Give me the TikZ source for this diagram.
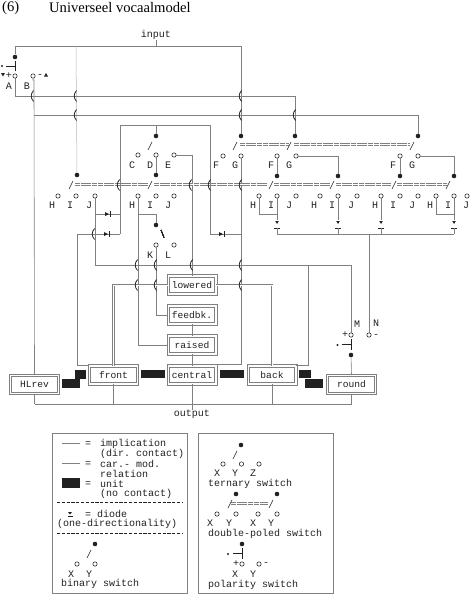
\documentclass[tikz,border=0pt]{standalone}
\usepackage{fontspec}
\setmainfont{Liberation Serif}
\setmonofont{Liberation Mono}
\usetikzlibrary{calc}
\definecolor{wirec}{gray}{0.5}
\definecolor{inkc}{gray}{0.13}
\tikzset{
  wire/.style={draw=wirec,line width=.6pt},
  hwire/.style={draw=wirec,line width=.95pt},
  faint/.style={draw=wirec!55,line width=.5pt},
  dwire/.style={draw=wirec,line width=.6pt,double=white,double distance=1pt},
  dbar/.style={draw=wirec,line width=.9pt,double=white,double distance=.6pt,dash pattern=on 5pt off .7pt},
  slashl/.style={draw=inkc,line width=.6pt},
  legendbox/.style={draw=wirec,line width=.9pt},
  sep/.style={draw=inkc,line width=.6pt,dash pattern=on 3.2pt off 1.6pt},
  contact/.style={circle,draw=inkc,line width=.55pt,fill=white,inner sep=0pt,minimum size=4.4pt},
  sdot/.style={circle,fill=inkc,inner sep=0pt,minimum size=4.6pt},
  mono/.style={font=\ttfamily\fontsize{10}{10}\selectfont,text=inkc,inner sep=0pt},
  lbl/.style={mono},
  ltext/.style={mono,anchor=west},
  unitbox/.style={draw=wirec,line width=1pt,double=white,double distance=1.4pt,fill=white,minimum width=47.6pt,minimum height=17.8pt,inner sep=0pt,font=\ttfamily\fontsize{9.6}{10}\selectfont,text=inkc},
  blk/.style={fill=inkc,draw=none},
}
\newcommand{\bmp}[2]{\draw[draw=inkc,line width=.8pt] (#1+1.6,#2-5.5) .. controls (#1-1.6,#2-2) and (#1-1.6,#2+2) .. (#1+1.6,#2+5.5);}
\newcommand{\slsh}[2]{\draw[slashl] (#1-8,#2+14) -- (#1-4,#2+6);}
\newcommand{\hdiode}[2]{\fill[inkc] (#1-3,#2-2) -- (#1+1,#2) -- (#1-3,#2+2) -- cycle; \draw[draw=inkc,line width=.6pt] (#1+2,#2-3) -- (#1+2,#2+3);}
\newcommand{\vdiode}[2]{\fill[inkc] (#1-1.8,#2-2) -- (#1+1.8,#2-2) -- (#1,#2+1) -- cycle; \draw[draw=inkc,line width=.6pt] (#1-2.6,#2+5) -- (#1+2.6,#2+5);}
\begin{document}
\begin{tikzpicture}[x=1pt,y=-1pt]
\useasboundingbox (0,0) rectangle (470,594);
% title
\node[anchor=west,inner sep=0pt,font=\fontsize{14.6}{15}\selectfont,text=black] (tnum) at (2,7.5) {(6)};
\node[anchor=west,inner sep=0pt,font=\fontsize{14.6}{15}\selectfont,text=black] (ttitle) at (49,7.5) {Universeel vocaalmodel};
% contacts and dots
\foreach \n/\x/\y in {d1/15/57,dG1/241/136,dG2/295/136,dG3/418/136,dC/156/136,r1/77/175,r2/156/175,r3/277/176,r4/338/176,r5/400/176,r6/454/176,dK/156/225,dM/351/355}
  \node[sdot] (\n) at (\x,\y) {};
\foreach \n/\x/\y in {cA/15/76,cB/33/76,cC/138/155,cD/156/155,cE/174/155,cF1/223/156,cG1/241/156,cF2/277/156,cG2/296/156,cF3/400/156,cG3/418/156,
  h1/58/196,i1/76/196,j1/95/196,h2/138/196,i2/156/196,j2/174/196,h3/259/196,i3/277/196,j3/296/196,h4/320/196,i4/338/196,j4/357/196,h5/381/196,i5/400/196,j5/418/196,h6/436/196,i6/454/196,j6/467/196,
  cK/156/245,cL/174/245,cM/351/335,cN/369/335}
  \node[contact] (\n) at (\x,\y) {};
% boxes
\node[unitbox] (lowered) at (192,285) {lowered};
\node[unitbox] (feedbk) at (192,315) {feedbk.};
\node[unitbox] (raised) at (192,345) {raised};
\node[unitbox] (central) at (192,375) {central};
\node[unitbox] (front) at (113.5,375) {front};
\node[unitbox] (back) at (272,375) {back};
\node[unitbox] (hlrev) at (34.5,384.5) {HLrev};
\node[unitbox] (round) at (351.5,384.5) {round};
% labels
\node[lbl] (input) at (156,35) {input};
\node[lbl] (output) at (192,414.5) {output};
\foreach \n/\t/\x/\y in {lA/A/9/86,lB/B/27/86,lC/C/132/165,lD/D/150/165,lE/E/168/165,lF1/F/216/165,lG1/G/235/165,lF2/F/271/165,lG2/G/289/165,lF3/F/393/165,lG3/G/412/165,
  lh1/H/52/205,li1/I/70/205,lj1/J/89/205,lh2/H/132/205,li2/I/150/205,lj2/J/168/205,lh3/H/253/205,li3/I/271/205,lj3/J/289/205,lh4/H/314/205,li4/I/332/205,lj4/J/351/205,lh5/H/375/205,li5/I/393/205,lj5/J/412/205,lh6/H/430/205,li6/I/448/205,lj6/J/466/205,
  lK/K/150/255,lL/L/168/255,lM/M/357/324,lN/N/376/323}
  \node[lbl] (\n) at (\x,\y) {\t};
% polarity signs
\node[lbl] (pa) at (9,75.5) {+};
\node[lbl] (pb) at (40,75.5) {-};
\node[lbl] (pc) at (345,335) {+};
\node[lbl] (pd) at (376,335.5) {-};
% named bend points
\coordinate (tl) at (15,46);
\coordinate (tr) at (241,46);
\coordinate (y96) at (295,96);
\coordinate (y115) at (418,115);
\coordinate (t1) at (120,125);
\coordinate (t2) at (210,125);
\coordinate (b1) at (34,404);
\coordinate (b2) at (351.5,404);
% input
\draw[wire] (input.south) -- (156,46);
\draw[hwire] (tl) -- (tr);
\draw[wire] (d1) -- (tl);
\draw[wire] (tr) -- (dG1);
\draw[faint] (76,46) -- (r1);
% polar switch top
\draw[wire,draw=inkc] (15,61) -- (15,71);
\draw[wire,draw=inkc] (6,66) -- (15,66);
\fill[inkc] (2,66) circle (1.2);
\fill[inkc] (1,73) -- (5,73) -- (3,76.5) -- cycle;
\fill[inkc] (44,76.5) -- (48,76.5) -- (46,73) -- cycle;
% selection wires
\draw[wire] (cA) -- (15,96);
\draw[hwire] (15,96) -- (y96);
\draw[wire] (y96) -- (dG2);
\draw[wire] (cB) -- (33,80) -- (34,80) -- (hlrev.north);
\draw[hwire] (34,115) -- (y115);
\draw[wire] (y115) -- (dG3);
\draw[wire] (t1) -- (t2);
\draw[wire] (dC) -- (156,125);
% middle rows
\draw[wire] (cD) -- (r2);
\draw[wire] (cE) -| (lowered.north);
\draw[wire] (cF2) -- (r3);
\draw[wire] (cF3) -- (r5);
\draw[wire] (cG2) -| (r4);
\draw[wire] (cG3) -| (r6);
\draw[wire] (cG1) -- (241,364) -- (central.north east |- 241,364);
% left diodes
\draw[wire] (t1) -- (120,234);
\draw[wire] (j1) -- (95,265);
\draw[wire] (95,214) -- (120,214);
\draw[wire] (77,234) -- (77,365) -- (front.north west |- 77,365);
\draw[wire] (77,234) -- (120,234);
\draw[wire] (t2) -- (210,234) -- (241,234);
\hdiode{108}{214}
\hdiode{107}{234}
\hdiode{222}{234}
% H-I-J of second switch
\draw[wire] (h2) |- (raised.west);
\draw[wire] (138,214) -- (156,214) -- (dK);
\draw[wire] (cK) |- (feedbk.west);
% long wire to M
\draw[hwire] (95,265) -- (351,265);
\draw[wire] (351,265) -- (cM);
\draw[wire] (308,265) -- (308,365) -- (back.north east |- 308,365);
% right group
\draw[wire] (h3) |- (277,214);
\draw[wire] (h6) |- (454,214);
\foreach \c/\x in {i3/277,i4/338,h5/381,i6/454}{
  \draw[wire] (\c) -- (\x,220);
  \vdiode{\x}{223}
  \draw[wire] (\x,228) -- (\x,234);
}
\draw[hwire] (277,234) -- (454,234);
\draw[wire] (369,234) -- (cN);
% double wires
\draw[dwire] (lowered.west) -| (front.north);
\draw[dwire] (lowered.east) -| (back.north);
% bars
\draw[dbar] (240,144.5) -- (289,144.5);
\draw[dbar] (294,144.5) -- (410,144.5);
\draw[dbar] (75,184.5) -- (148,184.5);
\draw[dbar] (154,184.5) -- (268,184.5);
\draw[dbar] (274,184.5) -- (330,184.5);
\draw[dbar] (336,184.5) -- (391,184.5);
\draw[dbar] (397,184.5) -- (447,184.5);
\foreach \x/\y in {156/136,241/136,295/136,418/136,77/175,156/175,277/175,338/175,400/175,454/175}
  \slsh{\x}{\y}
\draw[slashl] (161,230) -- (164,237.5);
% stacked boxes and outputs
\draw[wire] (feedbk.south) -- (raised.north);
\draw[wire] (raised.south) -- (central.north);
\draw[wire] (central.south) -- (output.north);
\draw[wire] (hlrev.south) -- (hlrev.south |- b1);
\draw[hwire] (hlrev.south |- b1) -- (b2);
\draw[wire] (b2) -- (round.south);
\draw[wire] (front.south) -- (front.south |- b1);
\draw[wire] (back.south) -- (back.south |- b1);
\draw[wire] (round.north) -- (dM);
\draw[wire,draw=inkc] (351,339) -- (351,350);
\draw[wire,draw=inkc] (342,344.5) -- (351,344.5);
\fill[inkc] (337.5,345) circle (1.2);
% bumps
\foreach \x/\y in {32/96,75/96,240/96,75/115,240/115,294/115,118/185,190/185,209/185,240/185,93/234,136/265,155/265,191/265,240/265,136/285,155/285,240/285}
  \bmp{\x}{\y}
% units
\fill[blk] (62,379) rectangle (80,388);
\fill[blk] (75,370) rectangle (86,379);
\fill[blk] (141,370) rectangle (165,378);
\fill[blk] (220,370) rectangle (244,378);
\fill[blk] (299,370) rectangle (311,378);
\fill[blk] (305,379) rectangle (323,388);
% legend left
\draw[legendbox] (52,433) rectangle (187,593);
\draw[wire] (62,443) -- (80,443);
\draw[wire] (62,463) -- (80,463);
\fill[blk] (62,478) rectangle (80,488);
\node[lbl] (e1l) at (88,444) {=};
\node[lbl] (e2l) at (88,464) {=};
\node[lbl] (e3l) at (88,484) {=};
\node[ltext] (t1l) at (100,444) {implication};
\node[ltext] (t2l) at (100,454) {(dir. contact)};
\node[ltext] (t3l) at (100,464) {car.- mod.};
\node[ltext] (t4l) at (100,474) {relation};
\node[ltext] (t5l) at (100,484) {unit};
\node[ltext] (t6l) at (100,494) {(no contact)};
\draw[sep] (57,502) -- (182,502);
\fill[inkc] (68,512) -- (72,512) -- (70,514.5) -- cycle;
\draw[draw=inkc,line width=.7pt] (67.5,516) -- (72.5,516);
\node[ltext] (t7l) at (85,513.5) {= diode};
\node[ltext] (t8l) at (57,523.5) {(one-directionality)};
\draw[sep] (57,533) -- (182,533);
\node[sdot] (ld) at (95,544) {};
\draw[slashl] (87,558) -- (91,550);
\node[contact] (lx) at (77,564) {};
\node[contact] (ly) at (95,564) {};
\node[lbl] (llx) at (71,574) {X};
\node[lbl] (lly) at (89,574) {Y};
\node[ltext] (t9l) at (61,584) {binary switch};
% legend right
\draw[legendbox] (198,433) rectangle (333,593);
\node[sdot] (qd) at (241,445) {};
\draw[slashl] (233,459) -- (237,451);
\node[contact] (qx) at (223,464) {};
\node[contact] (qy) at (241.5,464) {};
\node[contact] (qz) at (259,464) {};
\node[lbl] (lqx) at (217,473.5) {X};
\node[lbl] (lqy) at (235,473.5) {Y};
\node[lbl] (lqz) at (253,473.5) {Z};
\node[ltext] (t1r) at (208,483.5) {ternary switch};
\node[sdot] (wa) at (236,494) {};
\node[sdot] (wb) at (277,494) {};
\draw[dbar] (231,503.5) -- (268,503.5);
\draw[slashl] (228,508) -- (232,500);
\draw[slashl] (269,508) -- (273,500);
\node[contact] (wc) at (217,514) {};
\node[contact] (wd) at (236,514) {};
\node[contact] (we) at (258,514) {};
\node[contact] (wf) at (277,514) {};
\node[lbl] (lwc) at (210,523.5) {X};
\node[lbl] (lwd) at (229,523.5) {Y};
\node[lbl] (lwe) at (253,523.5) {X};
\node[lbl] (lwf) at (271,523.5) {Y};
\node[ltext] (t2r) at (208,533.5) {double-poled switch};
\node[sdot] (pd1) at (242,544) {};
\draw[wire,draw=inkc] (242,548) -- (242,559);
\draw[wire,draw=inkc] (233,553.5) -- (242,553.5);
\fill[inkc] (228,554) circle (1.2);
\node[lbl] (pplus) at (236,564) {+};
\node[contact] (px) at (242,564) {};
\node[contact] (py) at (259,564) {};
\node[lbl] (pminus) at (266,564) {-};
\node[lbl] (lpx) at (235,574) {X};
\node[lbl] (lpy) at (253,574) {Y};
\node[ltext] (t3r) at (208,584.5) {polarity switch};
\end{tikzpicture}
\end{document}
